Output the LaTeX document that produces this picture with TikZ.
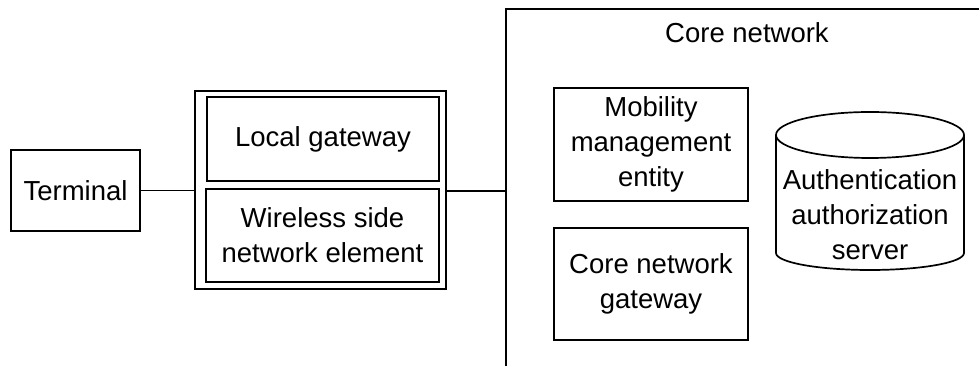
\documentclass[tikz,border=0pt]{standalone}
\usepackage{fontspec}
\setmainfont{Liberation Sans}
\begin{document}
\begin{tikzpicture}[x=1pt,y=1pt,
  every node/.style={font=\fontsize{27.5}{35}\selectfont, align=center, inner sep=0pt},
  box/.style={draw, line width=1.7pt, rectangle},
  conn/.style={line width=1.6pt}]
\useasboundingbox (0,0) rectangle (979,366);
\node[box, minimum width=129pt, minimum height=81pt] (term) at (75.5,175.5) {Terminal};
\node[box, minimum width=251pt, minimum height=198pt] (outer) at (320.5,176) {};
\node[box, minimum width=232pt, minimum height=84pt] (lgw) at (323,227) {Local gateway};
\node[box, minimum width=233pt, minimum height=93pt] (wsn) at (322.5,130.5) {Wireless side\\network element};
\draw[line width=2.3pt] (506,0) -- (506,357) -- (979,357);
\coordinate (core) at (506,175);
\node (coretitle) at (747,333) {Core network};
\node[box, minimum width=194pt, minimum height=113pt] (mme) at (651,221.5) {Mobility\\management\\entity};
\node[box, minimum width=194pt, minimum height=112pt] (cngw) at (651,82) {Core network\\gateway};
\draw[line width=1.7pt] (776,231) -- (776,113) arc[start angle=180,end angle=360,x radius=94pt,y radius=17pt] -- (964,231);
\draw[line width=1.7pt] (870,231) ellipse[x radius=94pt,y radius=23pt];
\node (aaa) at (870,151) {Authentication\\authorization\\server};
\draw[conn] (term.east) -- (outer.west |- term.east);
\draw[conn] (outer.east |- core) -- (core);
\end{tikzpicture}
\end{document}
